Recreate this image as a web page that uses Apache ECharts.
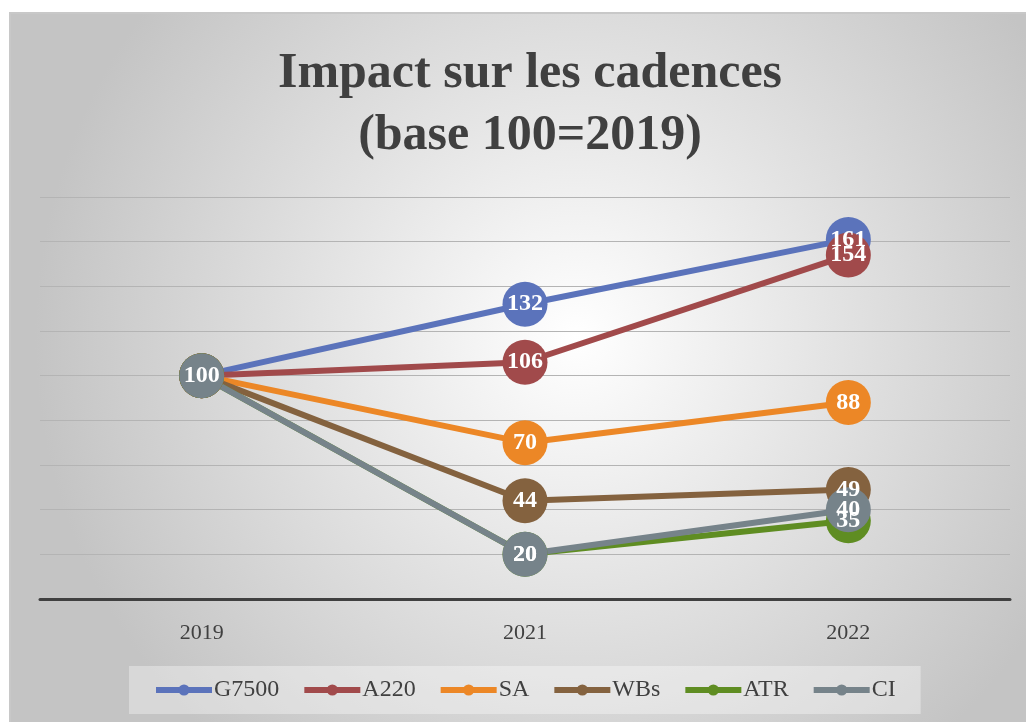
<!DOCTYPE html>
<html>
<head>
<meta charset="utf-8">
<script src="https://cdn.jsdelivr.net/npm/echarts@6/dist/echarts.min.js"></script>
<style>
  html, body { margin: 0; padding: 0; background: #fff; }
  #chart { width: 1026px; height: 722px; }
</style>
</head>
<body>
<div id="chart"></div>
<script>
// Years on the x axis
const years = ['2019', '2021', '2022']

// Series values (base 100 = 2019)
const g7500 = [100, 132, 161]
const a220 = [100, 106, 154]
const sa = [100, 70, 88]
const wbs = [100, 44, 49]
const atr = [100, 20, 35]
const ci = [100, 20, 40]

const seriesNames = ['G7500', 'A220', 'SA', 'WBs', 'ATR', 'CI']
const seriesData = [g7500, a220, sa, wbs, atr, ci]
const seriesColors = ['#5B73BB', '#A14A4B', '#EC8726', '#84623F', '#5F8D22', '#76838A']

const serif = '"Palatino Linotype", "Book Antiqua", "Liberation Serif", serif'
const textColor = '#404040'

const chart = echarts.init(document.getElementById('chart'))

const lastIndex = seriesNames.length - 1

const series = seriesNames.map((name, i) => ({
  name: name,
  type: 'line',
  // the shared 2019 point only needs one label (drawn by the top series)
  data: seriesData[i].map((v, j) => (j === 0 && i !== lastIndex) ? { value: v, label: { show: false } } : v),
  symbol: 'circle',
  symbolSize: 45,
  lineStyle: { width: 6, color: seriesColors[i] },
  itemStyle: { color: seriesColors[i] },
  label: {
    show: true,
    position: 'inside',
    color: '#fff',
    fontFamily: serif,
    fontWeight: 'bold',
    fontSize: 24
  },
  emphasis: { disabled: true },
  animation: false
}))

chart.setOption({
  animation: false,
  graphic: [{
    type: 'rect',
    silent: true,
    z: -10,
    shape: { x: 10, y: 13, width: 1030, height: 720 },
    style: {
      fill: new echarts.graphic.RadialGradient(0.55, 0.45, 0.75, [
        { offset: 0, color: '#ffffff' },
        { offset: 1, color: '#c4c4c4' }
      ]),
      stroke: '#c8c8c8',
      lineWidth: 2
    }
  }],
  title: {
    text: 'Impact sur les cadences\n(base 100=2019)',
    left: 525,
    textAlign: 'center',
    top: 38,
    textStyle: {
      fontFamily: serif,
      fontWeight: 'bold',
      fontSize: 50,
      lineHeight: 62,
      color: textColor
    }
  },
  legend: {
    bottom: 8,
    left: 129,
    itemWidth: 56,
    itemHeight: 14,
    itemGap: 22,
    padding: [12, 25, 12, 24],
    backgroundColor: 'rgba(255,255,255,0.35)',
    lineStyle: { width: 6 },
    textStyle: { fontFamily: serif, fontSize: 24, color: textColor, padding: [0, 0, 0, -3] },
    data: seriesNames
  },
  grid: { left: 40, right: 16, top: 197, bottom: 123 },
  xAxis: {
    type: 'category',
    data: years,
    axisLine: { lineStyle: { color: '#404040', width: 3 } },
    axisTick: { show: false },
    axisLabel: { color: textColor, fontFamily: serif, fontSize: 22, margin: 23 }
  },
  yAxis: {
    type: 'value',
    min: 0,
    max: 180,
    interval: 20,
    axisLabel: { show: false },
    axisLine: { show: false },
    axisTick: { show: false },
    splitLine: { lineStyle: { color: '#b4b4b4', width: 1 } }
  },
  series: series
})
</script>
</body>
</html>
